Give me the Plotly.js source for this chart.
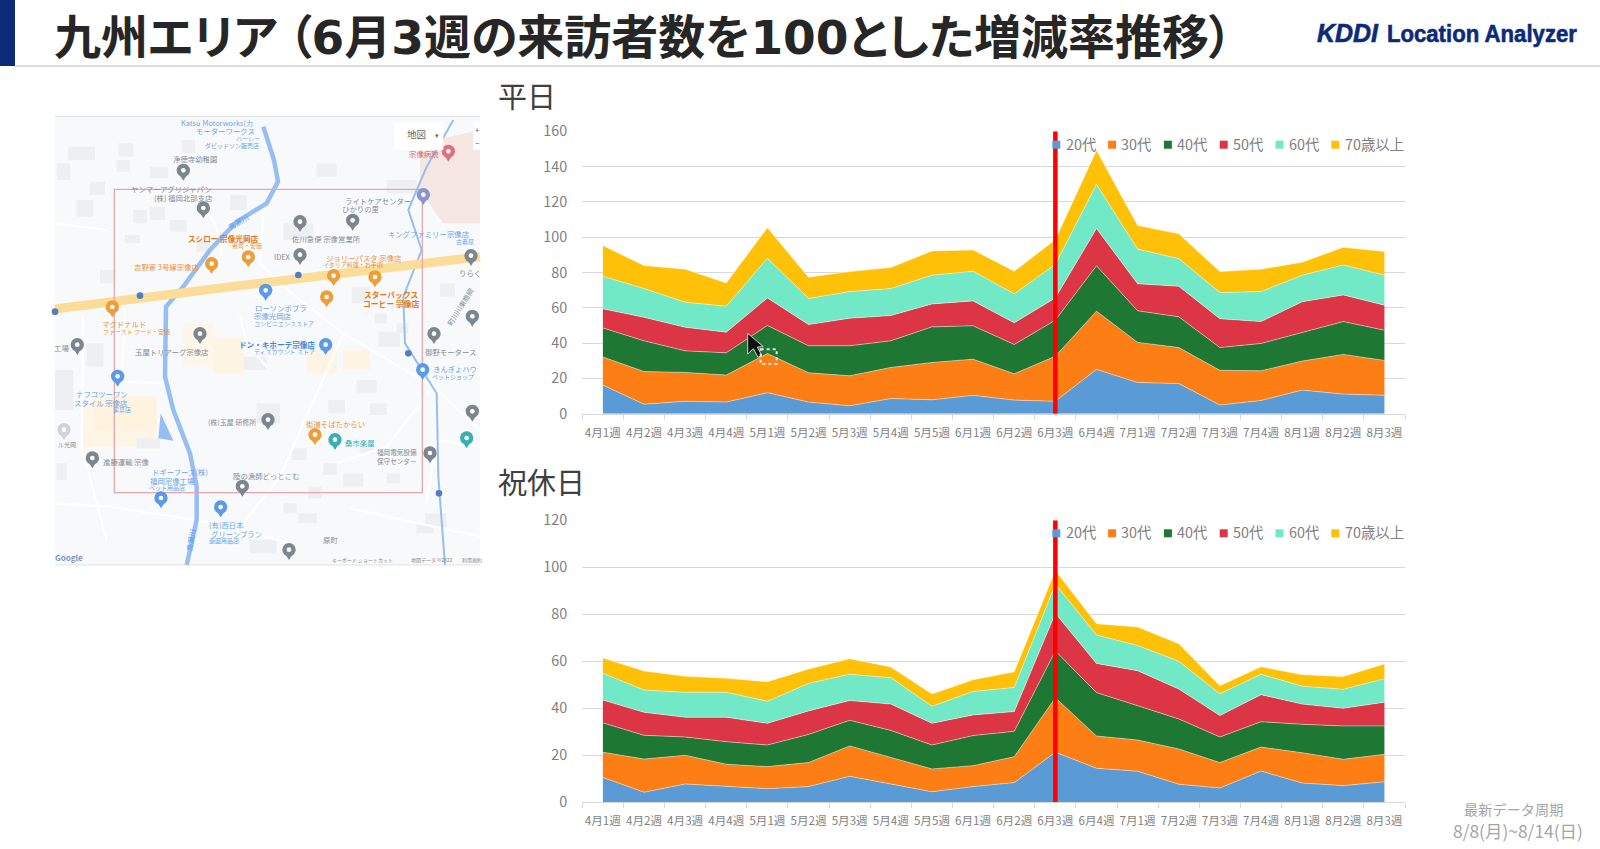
<!DOCTYPE html>
<html><head><meta charset="utf-8">
<script src="https://cdn.plot.ly/plotly-3.0.1.min.js"></script>
<style>html,body{margin:0;padding:0;background:#fff;overflow:hidden}
.gtitle{font-feature-settings:"palt" 1}</style>
</head><body><div id="chart" style="width:1600px;height:849px"></div>
<script>
const weeks = ['4月1週','4月2週','4月3週','4月4週','5月1週','5月2週','5月3週','5月4週','5月5週','6月1週','6月2週','6月3週','6月4週','7月1週','7月2週','7月3週','7月4週','8月1週','8月2週','8月3週'];
const ageNames = ['20代','30代','40代','50代','60代','70歳以上'];
const ageColors = ['#5B9BD5','#FD7E14','#1E7733','#DC3545','#72E9C6','#FFC107'];

const weekday20 = [16.2,5.4,7,6.6,11.9,6.6,4.5,8.6,7.9,10.4,7.7,7.1,25.1,17.7,17.1,4.9,7.5,13.4,11.1,10.5];
const weekday30 = [15.9,18.5,16.4,15.3,22.2,16.6,17,17.6,21.1,20.5,14.9,25.5,33,22.7,20.4,19.7,16.8,16.4,22.5,19.7];
const weekday40 = [16.5,17.4,12.2,12.6,15.9,15.3,17,15.1,20.2,18.9,16.6,20.4,25.7,17.9,17.4,12.9,15.5,16,18.6,17.1];
const weekday50 = [10.8,13.3,13.4,11.7,15.6,12,15.6,14.3,13,14.1,12.3,12.6,21.1,15.3,17.3,16.3,12.4,17.6,15.1,14.2];
const weekday60 = [18.5,16.3,14.2,14.7,22.5,14.8,15.1,15.3,16.3,16.8,16.4,19,25.1,19.6,15.7,14.8,17,15.1,17,17];
const weekday70 = [17.4,13,18.7,13.2,17.3,12,11.3,11.9,13.7,12.1,12.8,14,19.2,13.4,14,11.9,12.7,7.3,10,13.4];

const holiday20 = [10.6,4.3,7.8,6.8,5.8,6.7,11.1,7.8,4.5,6.7,8.4,21.3,14.5,13.2,7.7,6.1,13.3,8.2,7.1,8.7];
const holiday30 = [10.7,14.1,12.2,9.4,9.4,10.2,12.9,11.3,9.7,8.9,11,23.2,13.7,13.3,15,10.8,10.2,12.9,11.2,11.7];
const holiday40 = [12.5,10.1,7.8,9.6,9.2,12,10.9,11.5,10.2,12.8,10.8,19.9,18.5,14.6,12.8,10.9,10.8,12.1,14.2,12.1];
const holiday50 = [9.7,9.8,8.4,10.4,9.2,10,8.4,11.2,9.2,8.8,8.4,16,12.4,14.9,12.7,9.1,11.5,8.6,7.5,10.1];
const holiday60 = [11.4,9.5,10.6,10.6,9.4,11.7,11.2,11.2,7.3,10,10.3,12.4,12.1,10.7,11.8,9.3,8.7,7.6,8.1,10];
const holiday70 = [6.5,8.1,6.8,6,8.3,6.1,6.6,4.6,5.2,4.9,6.6,5.8,4.8,7.9,7.5,3.4,3.2,4.9,5.4,6.3];

const weekdaySeries = [weekday20,weekday30,weekday40,weekday50,weekday60,weekday70];
const holidaySeries = [holiday20,holiday30,holiday40,holiday50,holiday60,holiday70];
const markerWeek = '6月3週';

const W = 1600, H = 849;
const FONT = '"Noto Sans CJK JP","Noto Sans",sans-serif';
const fx = x => x / W, fy = y => 1 - y / H;

const traces = [];
function addStack(series, xa, ya, group) {
  series.forEach((vals, i) => traces.push({
    type:'scatter', mode:'lines', x:weeks, y:vals, name:ageNames[i], xaxis:xa, yaxis:ya,
    stackgroup:group, line:{color:'rgba(255,255,255,0.55)',width:0.8,shape:'linear'},
    fillcolor:ageColors[i], fill:'tonexty', hoverinfo:'skip', showlegend:false
  }));
}
addStack(weekdaySeries,'x','y','weekday');
addStack(holidaySeries,'x2','y2','holiday');

const shapes = [], annotations = [];
function rect(x0,y0,x1,y1,fill,line,lw,dash){shapes.push({type:'rect',xref:'paper',yref:'paper',x0:fx(x0),x1:fx(x1),y0:fy(y0),y1:fy(y1),fillcolor:fill||'rgba(0,0,0,0)',line:{color:line||'rgba(0,0,0,0)',width:lw||0,dash:dash||'solid'},layer:'above'});}
function text(x,y,t,size,color,anchor,extra){annotations.push(Object.assign({xref:'paper',yref:'paper',x:fx(x),y:fy(y),text:t,showarrow:false,xanchor:anchor||'center',yanchor:'middle',borderpad:0,font:{family:FONT,size:size,color:color}},extra||{}));}

/* header */
rect(0,0,15,66,'#0B2A78');
rect(15,65.5,1600,66.5,'#B4B8CE');
const logoMain = 'KDDI', logoSub = 'Location Analyzer';
text(1347.5,33,'<b><i>'+logoMain+'</i></b>',25,'#0B2A78','center',{font:{family:'"Liberation Sans",sans-serif',size:25,color:'#0B2A78'}});
text(1482,33,'<b>'+logoSub+'</b>',24,'#0B2A78','center',{font:{family:'"Liberation Sans",sans-serif',size:24,color:'#0B2A78'}});
text(497,95,'平日',29,'#404040','left');
text(497,481,'祝休日',29,'#404040','left');
text(1513,809,'最新データ周期',14.2,'#A6A6A6');
text(1518,830,'8/8(月)~8/14(日)',17.4,'#A6A6A6');

/* red marker + legend built for each chart */
function markerAndLegend(xa,ya,top,legendY){
  shapes.push({type:'line',xref:xa,yref:ya,x0:markerWeek,x1:markerWeek,y0:0,y1:top,line:{color:'#FF0000',width:4.5},layer:'above'});
  ageNames.forEach((n,i)=>{
    const sx = 1052.3 + i*55.8;
    rect(sx,legendY-4,sx+8,legendY+4,ageColors[i]);
    text(sx+12.2,legendY-1.5,n,14.4,'#7F7F7F','left');
  });
}
markerAndLegend('x','y',160,144.7);
markerAndLegend('x2','y2',120,533.3);

/* ---- decorative map backdrop (zoomed-crop coordinates) ---- */
const mx = z => 50 + z/3, my = z => 110 + z/3;
const pp = (a,b)=>fx(mx(a))+','+fy(my(b));
function poly(pts,close,fill,color,lw){
  const d = pts.map((p,i)=>(i?'L':'M')+pp(p[0],p[1])).join(' ')+(close?' Z':'');
  shapes.push({type:'path',xref:'paper',yref:'paper',path:d,fillcolor:fill||'rgba(0,0,0,0)',line:{color:color||'rgba(0,0,0,0)',width:lw||0},layer:'above'});
}
function zrect(a,b,c,d,fill,line,lw){rect(mx(a),my(b),mx(c),my(d),fill,line,lw);}
function dot(a,b,r,fill){shapes.push({type:'circle',xref:'paper',yref:'paper',x0:fx(mx(a-r)),x1:fx(mx(a+r)),y0:fy(my(b-r)),y1:fy(my(b+r)),fillcolor:fill,line:{width:0},layer:'above'});}
function pin(a,b,color){
  poly([[a-16,b-26],[a,b],[a+16,b-26]],true,color);
  dot(a,b-31,20,color); dot(a,b-31,7,'#fff');
}
function ztext(a,b,t,size,color,opts){
  const o = opts||{};
  text(mx(a),my(b),o.bold?'<b>'+t+'</b>':t,size,color,'center',o.angle?{textangle:o.angle}:{});
}
zrect(15,20,1290,1365,'#F8F9FA');
/* land use */
zrect(100,880,320,1010,'#FDF5E6'); zrect(130,860,320,960,'#FEF3DF');
zrect(400,640,490,770,'#FEF6E8'); zrect(490,680,580,790,'#FEF4E3');
zrect(770,720,860,790,'#FEF4E3'); zrect(880,720,960,780,'#FEF4E3');
poly([[1110,100],[1290,60],[1290,340],[1180,340],[1110,240]],true,'#F7E7E4');
/* buildings */
[[55,110,135,150],[120,215,165,255],[80,270,130,320],[205,100,250,140],[300,170,355,205],[360,330,410,365],[225,375,270,400],[540,255,590,300],[700,340,790,390],
 [905,530,960,580],[985,665,1050,710],[920,810,980,850],[620,880,690,940],[580,740,650,780],[260,985,330,1015],[725,1015,770,1050],[880,1090,940,1130],
 [600,1290,680,1330],[1100,1240,1150,1270],[1010,210,1100,250],[395,90,435,130],[15,780,70,900],[110,700,160,770],[1125,1210,1190,1250],[745,1210,800,1240],
 [250,300,290,340],[300,290,345,330],[200,150,240,185],[440,390,475,425],[800,160,860,200],[975,610,1010,640],[1040,640,1075,670],[700,1180,740,1210],[775,1130,815,1165],
 [820,1060,860,1095],[930,1000,970,1030],[1010,1090,1050,1120],[960,880,1010,915],[835,870,885,910],[1170,520,1215,560],[20,1060,50,1110],[20,160,60,210],[150,480,195,520]]
 .forEach(b=>zrect(b[0],b[1],b[2],b[3],'#EDEFF1'));
/* minor roads */
[[[700,530],[880,670],[1150,830],[1290,960]],[[880,670],[800,850],[690,1100],[540,1290]],[[15,1180],[180,1190],[500,1240],[720,1300]],[[100,620],[95,1010],[170,1290]],
 [[225,600],[215,815],[350,820]],[[640,300],[630,460],[700,530]],[[430,240],[500,350],[520,460]],[[570,620],[590,700],[650,770]],[[1150,830],[1010,1010],[860,1060]],
 [[1290,1010],[1160,990],[1130,1180]],[[900,1195],[1290,1280]],[[15,340],[170,360]]]
 .forEach(r=>poly(r,false,null,'#FFFFFF',2.2));
/* rivers */
poly([[640,50],[672,150],[684,215],[650,280],[560,335],[480,420],[400,530],[348,590],[345,800],[370,900],[420,1030],[440,1130],[440,1230],[410,1365]],false,null,'#97BEF3',4.5);
poly([[1210,30],[1130,170],[1075,300],[1115,420],[1060,560],[1065,700],[1160,850],[1165,1100],[1185,1365]],false,null,'#97BEF3',2);
poly([[332,910],[325,985],[370,992]],true,'#97BEF3');
/* national road */
poly([[15,597],[560,528],[1290,440]],false,null,'#FBDC98',9);
/* route shields */
[[270,557],[745,495],[15,605],[1075,730],[1167,1150]].forEach(s=>dot(s[0],s[1],10,'#4F7FC0'));
/* study area */
zrect(193,238,1117,1148,'rgba(0,0,0,0)','#E8A6AC',1.3);
/* pins */
[[400,212],[460,325],[750,366],[908,362],[750,465],[1263,468],[450,702],[82,735],[1152,702],[1267,650],[654,960],[127,1075],[1140,1060],[577,1160],[717,1350],[1267,935]].forEach(p=>pin(p[0],p[1],'#7C868E'));
[[485,492],[595,472],[187,622],[851,528],[975,532],[830,592],[795,1005]].forEach(p=>pin(p[0],p[1],'#EE9E38'));
[[647,572],[827,735],[203,830],[1118,810],[333,1195],[512,1222]].forEach(p=>pin(p[0],p[1],'#5A9AE8'));
[[855,1020],[1250,1015]].forEach(p=>pin(p[0],p[1],'#38AEB6'));
pin(1195,155,'#E0707A'); pin(1120,285,'#8496CC'); pin(42,990,'#D0D4D8');
/* map labels */
const BL='#6AA4E8', OR='#EA9240', GR='#868D93';
[[500,38,'Katsu Motorworks(カ',7.4,BL],[527,62,'モーターワークス',7.4,BL],[595,86,'ハーレー',6,BL],[545,105,'ダビッドソン販売店',6,BL],
 [435,146,'浄徳寺幼稚園',7.4,GR],[365,236,'ヤンマーアグリジャパン',7.4,GR],[400,262,'(株) 福岡北部支店',7.4,GR],[590,407,'寿司・安価',6,OR],
 [350,470,'吉野家 3号線宗像店',7.4,OR],[828,385,'佐川急便 宗像営業所',7.4,GR],[696,440,'IDEX',7.4,GR],[983,270,'ライトケアセンター',7.4,GR],[932,296,'ひかりの里',7.4,GR],
 [1137,371,'キングファミリー宗像店',7.4,BL],[1245,393,'古着屋',6,BL],[942,443,'ジョリーパスタ 宗像店',7.4,OR],[910,463,'イタリア料理・お手頃',6,OR],
 [692,591,'ローソンポプラ',7.4,BL],[668,617,'宗像光岡店',7.4,BL],[703,640,'コンビニエンスストア',6,BL],[222,641,'マクドナルド',7.4,OR],[258,663,'ファースト フード・安価',6,OR],
 [365,723,'玉屋トリアーグ宗像店',7.4,GR],[703,725,'ディスカウント ストア',6,BL],[157,851,'ナフコツーワン',7.4,BL],[153,876,'スタイル 宗像店',7.4,BL],[215,898,'家具店',6,BL],
 [545,935,'(株)玉屋 研修所',7,GR],[856,939,'街道そばたからい',7.4,OR],[930,996,'桑市楽屋',7.4,'#38AEB6'],[1040,1038,'福岡電気設備<br>保守センター',6.6,GR],
 [230,1053,'進藤運輸 宗像',7.4,GR],[390,1085,'ドギーフーズ(株)',7.4,BL],[368,1110,'福岡宗像工場',7.4,BL],[350,1133,'ペット用品店',6,BL],[648,1096,'陸の漁師どっとこむ',7.4,GR],
 [530,1243,'(有)西日本',7.4,BL],[560,1269,'グリーンプラン',7.4,BL],[522,1291,'造園用品店',6,BL],[840,1287,'原町',7.4,GR],[938,1350,'キーボード ショートカット',5,GR],
 [1145,1350,'地図データ ©2022',5,GR],[1265,1350,'利用規約',5,GR],[1122,131,'宗像病院',7.4,'#D9606A'],[1215,775,'きんぎょハウ',7.4,BL],[1210,798,'ペットショップ',6,BL],
 [1200,723,'御野モータース',7.4,GR],[1260,487,'りらく',7.4,GR],[35,712,'工場',7.4,GR],[50,1003,'ル光岡',6,GR]]
 .forEach(l=>ztext(l[0],l[1],l[2],l[3],l[4]));
ztext(520,386,'スシロー 宗像光岡店',7.6,'#E07820',{bold:true});
ztext(1022,554,'スターバックス',7.8,'#E07820',{bold:true});
ztext(1025,579,'コーヒー 宗像店',7.8,'#E07820',{bold:true});
ztext(680,703,'ドン・キホーテ宗像店',7.6,'#3F86DF',{bold:true});
ztext(565,335,'高瀬川',7.4,'#5C9CE6',{angle:-30});
ztext(420,1290,'高瀬川',7.4,'#5C9CE6',{angle:-80});
ztext(1230,590,'町川川東商網',7,GR,{angle:-58});
ztext(58,1342,'<b>Google</b>',8,'#7A93C8');
zrect(1032,35,1180,120,'#FFFFFF');
ztext(1100,73,'地図',9.5,'#666666');
ztext(1160,76,'▾',7,'#666666');
zrect(1270,35,1290,120,'#FFFFFF');
ztext(1282,60,'+',8,'#666666');
ztext(1282,98,'−',8,'#666666');
zrect(15,1364,1290,1366,'#C9CBD0');
zrect(15,18,1290,20,'#D5D7DA');

/* pointer with dashed selection box over the weekday chart */
const cx = v => 520 + v/3, cy = v => 110 + v/3;
shapes.push({type:'path',xref:'paper',yref:'paper',layer:'above',fillcolor:'#111111',line:{color:'#CCCCCC',width:1},
  path:[[683,670],[683,732],[700,716],[714,742],[725,736],[712,711],[730,710]].map((p,i)=>(i?'L':'M')+fx(cx(p[0]))+','+fy(cy(p[1]))).join(' ')+' Z'});
rect(cx(722),cy(718),cx(770),cy(762),'rgba(0,0,0,0)','#E8E8E8',2,'dot');

const axisBase = {
  type:'category', categoryorder:'array', categoryarray:weeks, range:[-0.5,19.5],
  tickson:'boundaries', ticks:'outside', ticklen:5, tickwidth:1, tickcolor:'#D9D9D9',
  showline:true, linecolor:'#D9D9D9', linewidth:1, showgrid:false, zeroline:false,
  tickfont:{family:FONT,size:11.6,color:'#7F7F7F'}, tickangle:0, ticklabelstandoff:8, fixedrange:true, automargin:false
};
const yBase = {
  showgrid:true, gridcolor:'#D9D9D9', gridwidth:1, zeroline:false, showline:false, ticks:'',
  tickfont:{family:FONT,size:14.4,color:'#7F7F7F'}, ticklabelstandoff:14, fixedrange:true, automargin:false, tickmode:'linear'
};
const xDomain = [fx(582.3),fx(1405)];
const digit = d => '<span style="font-family:\'DejaVu Sans\'">'+d+'</span>';
const layout = {
  width:W, height:H, margin:{l:0,r:0,t:0,b:0}, paper_bgcolor:'#FFFFFF', plot_bgcolor:'#FFFFFF', showlegend:false,
  title:{text:'<b>九州エリア （'+digit('6')+'月'+digit('3')+'週の来訪者数を'+digit('100')+'とした増減率推移）</b>',x:fx(54),xanchor:'left',y:fy(38),yanchor:'middle',font:{family:FONT,size:47,color:'#262626'},automargin:false},
  xaxis:Object.assign({},axisBase,{domain:xDomain,anchor:'y'}),
  yaxis:Object.assign({},yBase,{domain:[fy(413.7),fy(131.3)],range:[0,160],dtick:20,anchor:'x'}),
  xaxis2:Object.assign({},axisBase,{domain:xDomain,anchor:'y2'}),
  yaxis2:Object.assign({},yBase,{domain:[fy(802.3),fy(520.3)],range:[0,120],dtick:20,anchor:'x2'}),
  shapes:shapes, annotations:annotations
};
Plotly.newPlot('chart',traces,layout,{staticPlot:true,displayModeBar:false,responsive:false}).then(gd=>{
  /* the logo is a condensed heavy face: fit its two words to their widths and thicken them */
  gd.querySelectorAll('.annotation-text').forEach(t=>{
    const fit = t.textContent===logoMain ? 61 : t.textContent===logoSub ? 190 : 0;
    if(fit){t.setAttribute('textLength',fit);t.setAttribute('lengthAdjust','spacingAndGlyphs');t.style.stroke='#0B2A78';t.style.strokeWidth='0.6px';}
  });
});
</script></body></html>
